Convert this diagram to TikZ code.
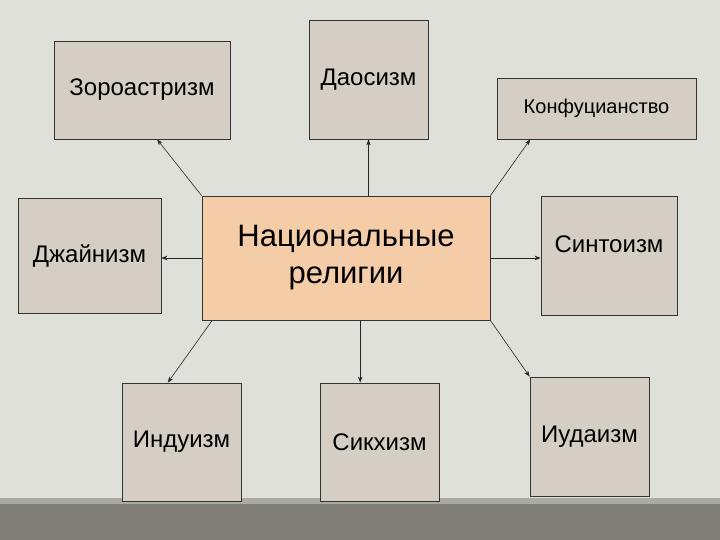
\documentclass[tikz,border=0pt]{standalone}
\usepackage{fontspec}
\setmainfont{Liberation Sans}
\usetikzlibrary{arrows.meta}
\definecolor{bgcol}{RGB}{224,224,218}
\definecolor{boxcol}{RGB}{212,206,196}
\definecolor{natcol}{RGB}{245,204,168}
\definecolor{barcol}{RGB}{128,128,120}
\definecolor{stripcol}{RGB}{170,172,162}
\tikzset{
  relbox/.style={draw=black!80, line width=0.8pt, fill=boxcol, inner sep=0pt, align=center,
    font=\fontsize{24}{28}\selectfont},
  natbox/.style={relbox, fill=natcol, font=\fontsize{31}{37}\selectfont},
  link/.style={draw=black!85, line width=0.6pt, -{Stealth[length=6pt,width=4.5pt]}}
}
\newcommand{\relbox}[6]{\node[relbox, minimum width=#4pt, minimum height=#5pt] (#1) at (#2,#3) {#6};}

\begin{document}
\begin{tikzpicture}[x=1pt,y=-1pt]
  % background and bar
  \fill[bgcol] (0,0) rectangle (720,540);
  \useasboundingbox (0,0) rectangle (720,540);
  \fill[stripcol] (0,498) rectangle (720,504);
  \fill[barcol] (0,504) rectangle (720,540);
  % centre
  \node[natbox, minimum width=288pt, minimum height=124pt] (nat) at (346,258) {Национальные\\религии};
  % top row
  \relbox{zoro}{142}{90}{176}{98}{Зороастризм}
  \relbox{dao}{368.5}{79.5}{119}{119}{Даосизм}
  \node[relbox, font=\fontsize{20}{24}\selectfont, minimum width=199pt, minimum height=61pt] (konf) at (596.5,108.5) {Конфуцианство};
  % middle row
  \relbox{jain}{89.5}{255.5}{143}{115}{Джайнизм}
  \node[relbox, text depth=22pt, minimum width=136pt, minimum height=119pt] (sint) at (609,255.5) {Синтоизм};
  % bottom row
  \relbox{indu}{181.5}{442}{119}{118}{Индуизм}
  \relbox{sikh}{379.5}{442}{119}{118}{Сикхизм}
  \relbox{iuda}{589.5}{436.5}{119}{119}{Иудаизм}
  % arrows
  \draw[link] (nat.north west) -- (zoro.-73);
  \draw[link] (nat.north -| dao.south) -- (dao.south);
  \draw[link] (nat.north east) -- (konf.205);
  \draw[link] (nat.west) -- (nat.west -| jain.east);
  \draw[link] (nat.east) -- (nat.east -| sint.west);
  \draw[link] (nat.-155) -- (indu.103);
  \draw[link] (nat.south -| sikh.108) -- (sikh.108);
  \draw[link] (nat.south east) -- (iuda.north west);
\end{tikzpicture}
\end{document}
